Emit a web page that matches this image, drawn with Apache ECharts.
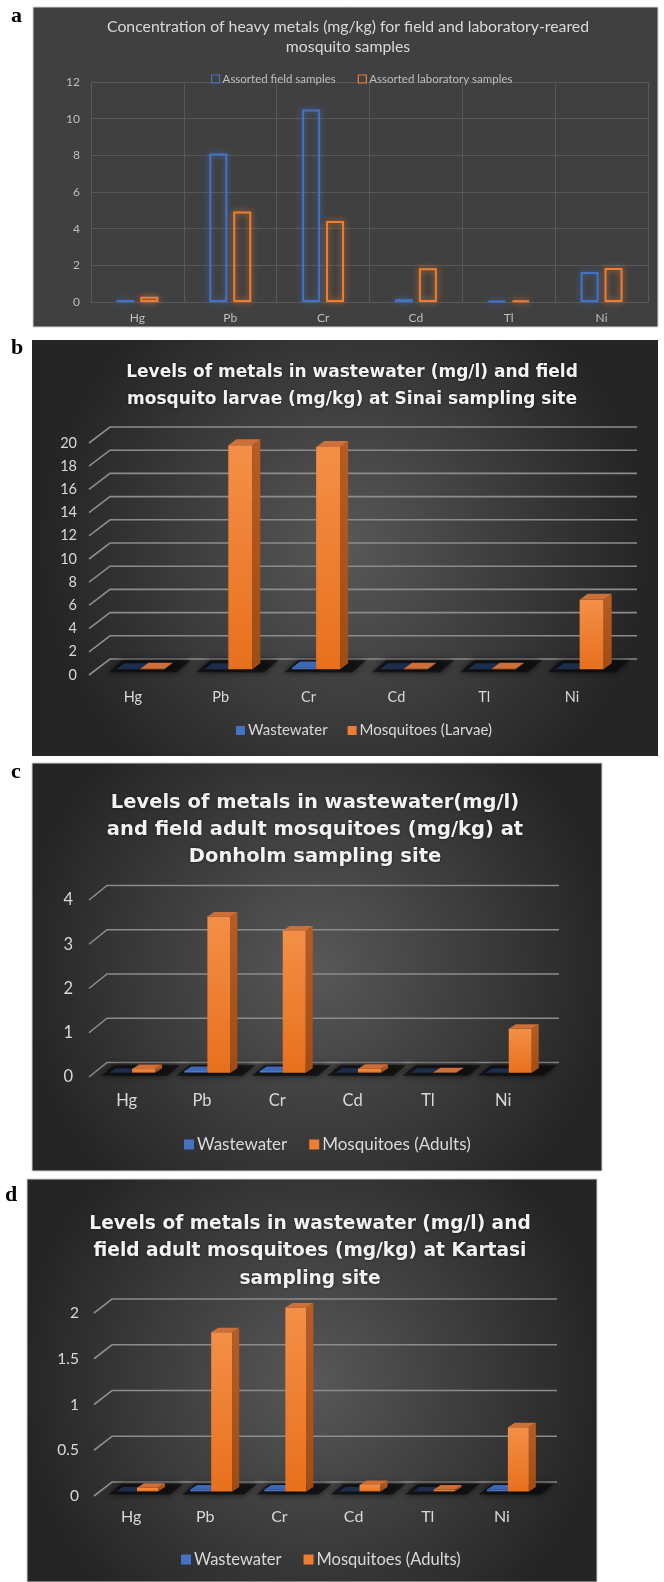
<!DOCTYPE html>
<html><head><meta charset="utf-8">
<script src="https://cdn.jsdelivr.net/npm/echarts@6/dist/echarts.min.js"></script>
<style>html,body{margin:0;padding:0;background:#fff}#c{width:664px;height:1582px}</style>
</head><body><div id="c"></div>
<script>
// ---------- data ----------
const metals = ['Hg', 'Pb', 'Cr', 'Cd', 'Tl', 'Ni'];
// panel a (mg/kg)
const aField = [0.11, 8.1, 10.5, 0.15, 0.05, 1.63];
const aLab = [0.29, 4.93, 4.42, 1.84, 0.08, 1.85];
// panel b: Sinai
const bWaste = [0, 0, 0.15, 0, 0, 0];
const bLarvae = [0.05, 19.3, 19.15, 0.05, 0.05, 6.0];
// panel c: Donholm
const cWaste = [0, 0.04, 0.04, 0, 0, 0];
const cAdults = [0.08, 3.53, 3.21, 0.09, 0.01, 0.99];
// panel d: Kartasi
const dWaste = [0, 0.02, 0.02, 0, 0, 0.02];
const dAdults = [0.04, 1.74, 2.01, 0.07, 0.02, 0.70];
// tick values of 3D panels
const bTicks = [0, 2, 4, 6, 8, 10, 12, 14, 16, 18, 20];
const cTicks = [0, 1, 2, 3, 4];
const dTicks = [0, 0.5, 1, 1.5, 2];

const BLUE = '#4472C4', ORANGE = '#ED7D31';
const FONT = 'Lato, "Open Sans", sans-serif';
const TFONT = '"DejaVu Sans", Lato, sans-serif';

// ---------- 3D helpers ----------
const cfgB = {fdx: 21, fdy: 16, f: 0.36, bw: 24, bdx: 8, bdy: 6};
const cfgC = {fdx: 18, fdy: 14.5, f: 0.3, bw: 23, bdx: 7, bdy: 4.5};
const cfgD = {fdx: 18, fdy: 14, f: 0.33, bw: 21, bdx: 7, bdy: 4.5};

function gridRender(cfg) {
  return function (params, api) {
    const cs = params.coordSys;
    const y = api.coord([0, api.value(1)])[1];
    const x0 = cs.x, x1 = cs.x + cs.width;
    return {
      type: 'polyline',
      shape: {points: [[x0, y], [x0 + cfg.fdx, y - cfg.fdy], [x1 + cfg.fdx, y - cfg.fdy]]},
      style: {stroke: '#8c8c8c', lineWidth: 1.6, fill: null}
    };
  };
}

function barRender(cfg, side) {
  return function (params, api) {
    const i = api.value(0), v = api.value(1);
    const base = api.coord([i, 0]);
    const tp = api.coord([i, v]);
    const w = cfg.bw, dx = cfg.bdx, dy = cfg.bdy;
    const sx = cfg.f * cfg.fdx, sy = cfg.f * cfg.fdy;
    const x = base[0] + sx + (side === 0 ? -w : 0);
    const yb = base[1] - sy, yt = tp[1] - sy;
    const children = [];
    let front, sideC, topC;
    if (side === 0) {
      front = {type: 'linear', x: 0, y: 0, x2: 0, y2: 1, colorStops: [{offset: 0, color: '#5a86d4'}, {offset: 1, color: '#3a64b0'}]};
      sideC = '#2b4c88';
      topC = v > 0 ? '#3d68b8' : '#1c2d4e';
      const gx = x - 8, gr = x + 2 * w + 12;
      children.push({
        type: 'polygon',
        shape: {points: [[gx, yb + 3], [gr, yb + 3], [gr + dx + 6, yb - dy - 3], [gx + dx + 6, yb - dy - 3]]},
        style: {fill: 'rgba(12,12,14,0.75)', shadowBlur: 7, shadowColor: 'rgba(0,0,0,0.9)'}
      });
    } else {
      front = {type: 'linear', x: 0, y: 0, x2: 0, y2: 1, colorStops: [{offset: 0, color: '#f48f47'}, {offset: 1, color: '#e8701d'}]};
      sideC = {type: 'linear', x: 0, y: 0, x2: 0, y2: 1, colorStops: [{offset: 0, color: '#b75d24'}, {offset: 1, color: '#a14c12'}]};
      topC = '#cc6f38';
    }
    const h = Math.max(yb - yt, 0);
    if (h > 0.3) {
      children.push({type: 'rect', shape: {x: x, y: yt, width: w, height: h}, style: {fill: front}});
      children.push({type: 'polygon', shape: {points: [[x + w, yt], [x + w + dx, yt - dy], [x + w + dx, yb - dy], [x + w, yb]]}, style: {fill: sideC}});
    }
    children.push({type: 'polygon', shape: {points: [[x, yt], [x + dx, yt - dy], [x + w + dx, yt - dy], [x + w, yt]]}, style: {fill: topC}});
    return {type: 'group', children: children};
  };
}

const pairs = arr => arr.map((v, i) => [i, v]);
const tickPairs = arr => arr.map(t => [0, t]);

// ---------- option ----------
const grids = [
  {left: 91, top: 82, width: 557, height: 220},
  {left: 89, top: 443, width: 527, height: 232},
  {left: 89, top: 900, width: 452, height: 177},
  {left: 94, top: 1313, width: 445, height: 183}
];

const labelCol = '#d9d9d9';
function xAx(idx, size, margin, col, split) {
  return {
    type: 'category', gridIndex: idx, data: metals,
    axisLine: {show: split, lineStyle: {color: '#585858', width: 1}},
    axisTick: {show: false},
    splitLine: {show: split, lineStyle: {color: '#585858', width: 1}},
    axisLabel: {color: col, fontSize: size, fontFamily: FONT, margin: margin}
  };
}
function yAx(idx, max, interval, size, margin, col, split) {
  return {
    type: 'value', gridIndex: idx, min: 0, max: max, interval: interval,
    axisLine: {show: false}, axisTick: {show: false},
    splitLine: {show: split, lineStyle: {color: '#585858', width: 1}},
    axisLabel: {color: col, fontSize: size, fontFamily: FONT, margin: margin}
  };
}

const radialBg = {type: 'radial', x: 0.5, y: 0.5, r: 0.72, colorStops: [{offset: 0, color: '#585858'}, {offset: 1, color: '#252525'}]};

function letter(t, x, y) {
  return {type: 'text', x: x, y: y, z: 10, style: {text: t, font: 'bold 22px "Liberation Serif", serif', fill: '#000', textVerticalAlign: 'middle'}};
}
function titleText(t, x, y, font, fill, lh, shadow) {
  return {type: 'text', x: x, y: y, z: 10, style: {text: t, font: font, fill: fill, textAlign: 'center', textVerticalAlign: 'top', lineHeight: lh,
    textShadowColor: shadow ? 'rgba(0,0,0,0.6)' : 'transparent', textShadowBlur: shadow ? 3 : 0}};
}

const option = {
  backgroundColor: '#ffffff',
  animation: false,
  graphic: [
    {type: 'rect', z: -100, shape: {x: 33, y: 7, width: 625, height: 320}, style: {fill: '#404040', stroke: '#d0d0d0', lineWidth: 1}},
    {type: 'rect', z: -100, shape: {x: 32, y: 340, width: 626, height: 416}, style: {fill: radialBg}},
    {type: 'rect', z: -100, shape: {x: 32, y: 763, width: 570, height: 408}, style: {fill: radialBg, stroke: '#cfcfcf', lineWidth: 1}},
    {type: 'rect', z: -100, shape: {x: 27, y: 1179, width: 570, height: 403}, style: {fill: radialBg, stroke: '#cfcfcf', lineWidth: 1}},
    letter('a', 11, 16), letter('b', 11, 348), letter('c', 11, 772), letter('d', 5, 1195),
    titleText('Concentration of heavy metals (mg/kg) for field and laboratory-reared\nmosquito samples', 348, 17, '15.8px ' + FONT, '#d9d9d9', 20, false),
    titleText('Levels of metals in wastewater (mg/l) and field\nmosquito larvae (mg/kg) at Sinai sampling site', 352, 359, 'bold 17px ' + TFONT, '#f2f2f2', 27, true),
    titleText('Levels of metals in wastewater(mg/l)\nand field adult mosquitoes (mg/kg) at\nDonholm sampling site', 315, 789, 'bold 19.5px ' + TFONT, '#f2f2f2', 27, true),
    titleText('Levels of metals in wastewater (mg/l) and\nfield adult mosquitoes (mg/kg) at Kartasi\nsampling site', 310, 1210, 'bold 18.6px ' + TFONT, '#f2f2f2', 27.5, true)
  ],
  legend: [
    {left: 206, top: 68, itemWidth: 8, itemHeight: 8, itemGap: 22, icon: 'rect',
      textStyle: {color: '#bfbfbf', fontSize: 11.5, fontFamily: FONT, padding: [0, 0, 0, -2]},
      data: [
        {name: 'Assorted field samples', itemStyle: {color: 'rgba(0,0,0,0)', borderColor: BLUE, borderWidth: 1.2}},
        {name: 'Assorted laboratory samples', itemStyle: {color: 'rgba(0,0,0,0)', borderColor: ORANGE, borderWidth: 1.2}}
      ]},
    {left: 231, top: 718, itemWidth: 9, itemHeight: 9, itemGap: 20, icon: 'rect',
      textStyle: {color: labelCol, fontSize: 15, fontFamily: FONT, padding: [0, 0, 0, -2]},
      data: [{name: 'Wastewater', itemStyle: {color: BLUE}}, {name: 'Mosquitoes (Larvae)', itemStyle: {color: ORANGE}}]},
    {left: 179, top: 1131, itemWidth: 10, itemHeight: 10, itemGap: 22, icon: 'rect',
      textStyle: {color: labelCol, fontSize: 17, fontFamily: FONT, padding: [0, 0, 0, -2]},
      data: [{name: 'Wastewater', itemStyle: {color: BLUE}}, {name: 'Mosquitoes (Adults)', itemStyle: {color: ORANGE}}]},
    {left: 176, top: 1546, itemWidth: 10, itemHeight: 10, itemGap: 22, icon: 'rect',
      textStyle: {color: labelCol, fontSize: 16.5, fontFamily: FONT, padding: [0, 0, 0, -2]},
      data: [{name: 'Wastewater', itemStyle: {color: BLUE}}, {name: 'Mosquitoes (Adults)', itemStyle: {color: ORANGE}}]}
  ],
  grid: grids,
  xAxis: [
    xAx(0, 12, 10, '#bfbfbf', true),
    xAx(1, 14.5, 15, labelCol, false),
    xAx(2, 16.5, 15, labelCol, false),
    xAx(3, 16, 13, labelCol, false)
  ],
  yAxis: [
    yAx(0, 12, 2, 12, 11, '#bfbfbf', true),
    yAx(1, 20, 2, 14.5, 12, labelCol, false),
    yAx(2, 4, 1, 16.5, 16, labelCol, false),
    yAx(3, 2, 0.5, 15.5, 15, labelCol, false)
  ],
  series: [
    {name: 'Assorted field samples', type: 'bar', xAxisIndex: 0, yAxisIndex: 0, data: aField, barWidth: 18, barGap: '33%',
      itemStyle: {color: 'rgba(0,0,0,0)', borderColor: BLUE, borderWidth: 2, shadowBlur: 6, shadowColor: 'rgba(68,114,196,0.9)'}},
    {name: 'Assorted laboratory samples', type: 'bar', xAxisIndex: 0, yAxisIndex: 0, data: aLab, barWidth: 18, barGap: '33%',
      itemStyle: {color: 'rgba(0,0,0,0)', borderColor: ORANGE, borderWidth: 2, shadowBlur: 6, shadowColor: 'rgba(237,125,49,0.9)'}},

    {name: 'gridB', type: 'custom', xAxisIndex: 1, yAxisIndex: 1, z: 1, silent: true, data: tickPairs(bTicks), renderItem: gridRender(cfgB)},
    {name: 'Wastewater', type: 'custom', xAxisIndex: 1, yAxisIndex: 1, z: 3, itemStyle: {color: BLUE}, data: pairs(bWaste), renderItem: barRender(cfgB, 0)},
    {name: 'Mosquitoes (Larvae)', type: 'custom', xAxisIndex: 1, yAxisIndex: 1, z: 4, itemStyle: {color: ORANGE}, data: pairs(bLarvae), renderItem: barRender(cfgB, 1)},

    {name: 'gridC', type: 'custom', xAxisIndex: 2, yAxisIndex: 2, z: 1, silent: true, data: tickPairs(cTicks), renderItem: gridRender(cfgC)},
    {name: 'Wastewater', type: 'custom', xAxisIndex: 2, yAxisIndex: 2, z: 3, itemStyle: {color: BLUE}, data: pairs(cWaste), renderItem: barRender(cfgC, 0)},
    {name: 'Mosquitoes (Adults)', type: 'custom', xAxisIndex: 2, yAxisIndex: 2, z: 4, itemStyle: {color: ORANGE}, data: pairs(cAdults), renderItem: barRender(cfgC, 1)},

    {name: 'gridD', type: 'custom', xAxisIndex: 3, yAxisIndex: 3, z: 1, silent: true, data: tickPairs(dTicks), renderItem: gridRender(cfgD)},
    {name: 'Wastewater', type: 'custom', xAxisIndex: 3, yAxisIndex: 3, z: 3, itemStyle: {color: BLUE}, data: pairs(dWaste), renderItem: barRender(cfgD, 0)},
    {name: 'Mosquitoes (Adults)', type: 'custom', xAxisIndex: 3, yAxisIndex: 3, z: 4, itemStyle: {color: ORANGE}, data: pairs(dAdults), renderItem: barRender(cfgD, 1)}
  ]
};

const chart = echarts.init(document.getElementById('c'), null, {renderer: 'canvas'});
chart.setOption(option);
</script>
</body></html>
